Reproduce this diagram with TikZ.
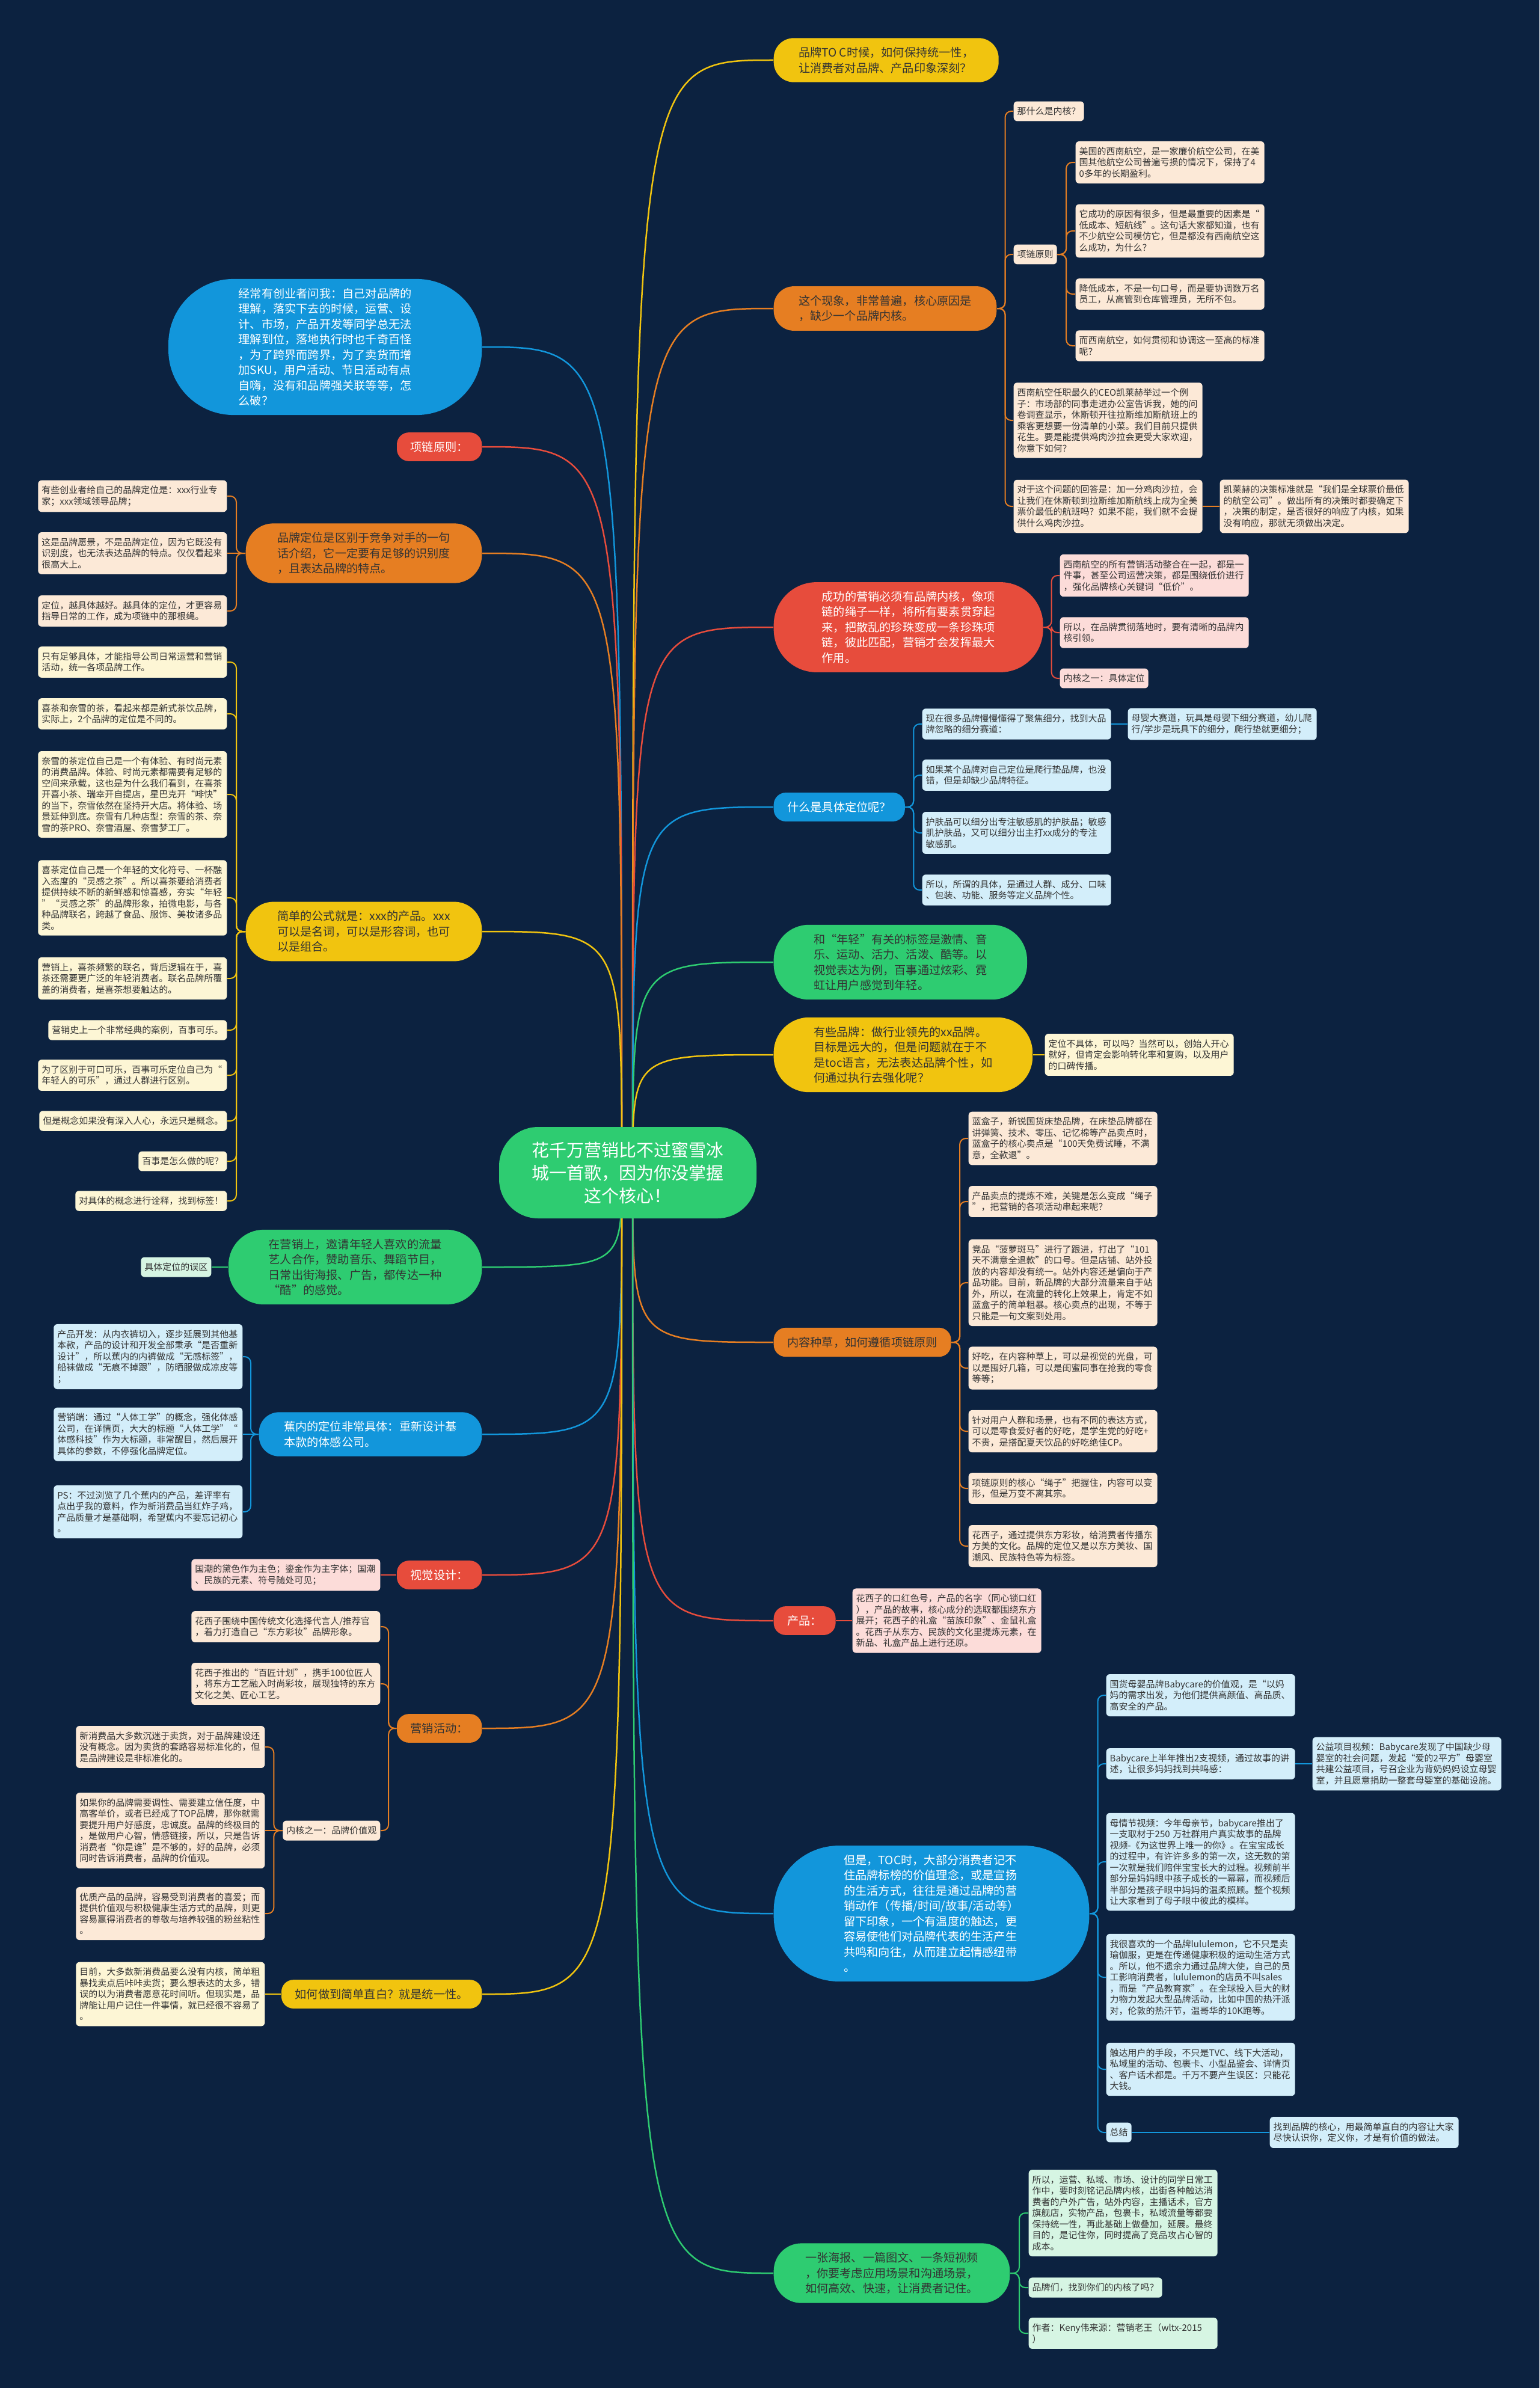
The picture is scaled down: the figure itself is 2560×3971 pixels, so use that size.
\documentclass[tikz,border=0pt]{standalone}
\usepackage{fontspec}
\setmainfont{Noto Sans CJK SC}
\usetikzlibrary{calc}
\pgfdeclarelayer{back}\pgfdeclarelayer{bg}
\pgfsetlayers{back,bg,main}
\definecolor{bgc}{HTML}{0C2240}
\definecolor{cY}{HTML}{F1C40F}
\definecolor{cO}{HTML}{E67E22}
\definecolor{cR}{HTML}{E74C3C}
\definecolor{cB}{HTML}{1296DB}
\definecolor{cG}{HTML}{2ECC71}
\definecolor{fY}{HTML}{FDF6D5}
\definecolor{fO}{HTML}{FCE9D7}
\definecolor{fR}{HTML}{FCDCD9}
\definecolor{fB}{HTML}{D3EEFA}
\definecolor{fG}{HTML}{D6F5E3}
\definecolor{txt}{HTML}{333333}
\tikzset{
  br/.style 2 args={rectangle, rounded corners=#1, align=left, inner xsep=#2, inner ysep=4.5pt, font=\fontsize{5.76pt}{7.65pt}\selectfont},
  bone/.style={br={6pt}{6.8pt}},
  btwo/.style={br={10pt}{12.4pt}},
  bthree/.style={br={13.8pt}{15.7pt}},
  bfour/.style={br={17.6pt}{20pt}},
  bfive/.style={br={21.4pt}{24pt}},
  beight/.style={br={32.5pt}{35pt}},
  sb/.style={rectangle, rounded corners=1.8pt, align=left, text width=90.6pt, inner xsep=1.8pt, inner ysep=2.85pt, font=\fontsize{4.5pt}{5.55pt}\selectfont, text=txt},
  sbo/.style={rectangle, rounded corners=1.8pt, align=left, inner xsep=1.8pt, inner ysep=2.85pt, font=\fontsize{4.5pt}{5.55pt}\selectfont, text=txt},
  ctrnode/.style={rectangle, rounded corners=19.5pt, align=center, minimum width=128.4pt, minimum height=45.6pt, font=\fontsize{8.7pt}{11.4pt}\selectfont, fill=cG, text=white},
  mline/.style={line width=0.75pt},
  sline/.style={line width=0.6pt, rounded corners=3pt},
}
\newcommand\mconR[2]{\draw[mline,#1] let \p1=(ctrR), \p2=(#2.west) in (\p1) .. controls (\x1,\y2) .. (\p2);}
\newcommand\mconL[2]{\draw[mline,#1] let \p1=(ctrL), \p2=(#2.east) in (\p1) .. controls (\x1,\y2) .. (\p2);}
\newcommand\sconR[3]{\draw[sline,#1] let \p1=(#2.east), \p2=(#3.west) in (\p1) -- ({(\x1+\x2)/2},\y1) |- (\p2);}
\newcommand\sconL[3]{\draw[sline,#1] let \p1=(#2.west), \p2=(#3.east) in (\p1) -- ({(\x1+\x2)/2},\y1) |- (\p2);}
\newcommand\hconR[3]{\draw[sline,#1] (#2.east) -- (#2.east -| #3.west);}
\newcommand\hconL[3]{\draw[sline,#1] (#2.west) -- (#2.west -| #3.east);}
\begin{document}
\begin{tikzpicture}[x=0.3pt,y=-0.3pt]
\begin{pgfonlayer}{back}
\fill[bgc] (0,0) rectangle (2560,3971);
\end{pgfonlayer}
\useasboundingbox (0,0) rectangle (2560,3971);

% center
\node[ctrnode] (C) at (1044,1950) {花千万营销比不过蜜雪冰\\城一首歌，因为你没掌握\\这个核心！};
\coordinate (ctrR) at (1052,1950);
\coordinate (ctrL) at (1034,1950);

% right branches
\node[btwo,fill=cY,text=txt,anchor=west] (R1) at (1286,100) {品牌TO C时候，如何保持统一性，\\让消费者对品牌、产品印象深刻？};
\node[btwo,fill=cO,text=txt,anchor=west] (R2) at (1286,513) {这个现象，非常普遍，核心原因是\\，缺少一个品牌内核。};
\node[bfive,fill=cR,text=white,anchor=west] (R3) at (1286,1043) {成功的营销必须有品牌内核，像项\\链的绳子一样，将所有要素贯穿起\\来，把散乱的珍珠变成一条珍珠项\\链，彼此匹配，营销才会发挥最大\\作用。};
\node[bone,fill=cB,text=white,anchor=west] (R4) at (1286,1342) {什么是具体定位呢？};
\node[bfour,fill=cG,text=txt,anchor=west] (R5) at (1286,1600) {和“年轻”有关的标签是激情、音\\乐、运动、活力、活泼、酷等。以\\视觉表达为例，百事通过炫彩、霓\\虹让用户感觉到年轻。};
\node[bfour,fill=cY,text=txt,anchor=west] (R6) at (1286,1754) {有些品牌：做行业领先的xx品牌。\\目标是远大的，但是问题就在于不\\是toc语言，无法表达品牌个性，如\\何通过执行去强化呢？};
\node[bone,fill=cO,text=txt,anchor=west] (R7) at (1286,2232) {内容种草，如何遵循项链原则};
\node[bone,fill=cR,text=white,anchor=west] (R8) at (1286,2695) {产品：};
\node[beight,fill=cB,text=white,anchor=west] (R9) at (1286,3182) {但是，TOC时，大部分消费者记不\\住品牌标榜的价值理念，或是宣扬\\的生活方式，往往是通过品牌的营\\销动作（传播/时间/故事/活动等）\\留下印象，一个有温度的触达，更\\容易使他们对品牌代表的生活产生\\共鸣和向往，从而建立起情感纽带\\。};
\node[bthree,fill=cG,text=txt,anchor=west] (R10) at (1286,3780) {一张海报、一篇图文、一条短视频\\，你要考虑应用场景和沟通场景，\\如何高效、快速，让消费者记住。};

% left branches
\node[beight,fill=cB,text=white,anchor=east] (L1) at (802,577) {经常有创业者问我：自己对品牌的\\理解，落实下去的时候，运营、设\\计、市场，产品开发等同学总无法\\理解到位，落地执行时也千奇百怪\\，为了跨界而跨界，为了卖货而增\\加SKU，用户活动、节日活动有点\\自嗨，没有和品牌强关联等等，怎\\么破？};
\node[bone,fill=cR,text=white,anchor=east] (L2) at (802,743) {项链原则：};
\node[bthree,fill=cO,text=txt,anchor=east] (L3) at (802,920) {品牌定位是区别于竞争对手的一句\\话介绍，它一定要有足够的识别度\\，且表达品牌的特点。};
\node[bthree,fill=cY,text=txt,anchor=east] (L4) at (802,1549) {简单的公式就是：xxx的产品。xxx\\可以是名词，可以是形容词，也可\\以是组合。};
\node[bfour,fill=cG,text=txt,anchor=east] (L5) at (802,2107) {在营销上，邀请年轻人喜欢的流量\\艺人合作，赞助音乐、舞蹈节目，\\日常出街海报、广告，都传达一种\\“酷”的感觉。};
\node[btwo,fill=cB,text=white,anchor=east] (L6) at (802,2385) {蕉内的定位非常具体：重新设计基\\本款的体感公司。};
\node[bone,fill=cR,text=white,anchor=east] (L7) at (802,2619) {视觉设计：};
\node[bone,fill=cO,text=txt,anchor=east] (L8) at (802,2874) {营销活动：};
\node[bone,fill=cY,text=txt,anchor=east] (L9) at (802,3316) {如何做到简单直白？就是统一性。};

% R2 subs
\node[sbo,fill=fO,anchor=west] (r2a) at (1685,185) {那什么是内核？};
\node[sbo,fill=fO,anchor=west] (r2b) at (1685,423) {项链原则};
\node[sb,fill=fO,anchor=west] (r2b1) at (1788,270) {美国的西南航空，是一家廉价航空公司，在美\\国其他航空公司普遍亏损的情况下，保持了4\\0多年的长期盈利。};
\node[sb,fill=fO,anchor=west] (r2b2) at (1788,384) {它成功的原因有很多，但是最重要的因素是“\\低成本、短航线”。这句话大家都知道，也有\\不少航空公司模仿它，但是都没有西南航空这\\么成功，为什么？};
\node[sb,fill=fO,anchor=west] (r2b3) at (1788,489) {降低成本，不是一句口号，而是要协调数万名\\员工，从高管到仓库管理员，无所不包。};
\node[sb,fill=fO,anchor=west] (r2b4) at (1788,575) {而西南航空，如何贯彻和协调这一至高的标准\\呢？};
\node[sb,fill=fO,anchor=west] (r2c) at (1685,699) {西南航空任职最久的CEO凯莱赫举过一个例\\子：市场部的同事走进办公室告诉我，她的问\\卷调查显示，休斯顿开往拉斯维加斯航班上的\\乘客更想要一份清单的小菜。我们目前只提供\\花生。要是能提供鸡肉沙拉会更受大家欢迎，\\你意下如何？};
\node[sb,fill=fO,anchor=west] (r2d) at (1685,842) {对于这个问题的回答是：加一分鸡肉沙拉，会\\让我们在休斯顿到拉斯维加斯航线上成为全美\\票价最低的航班吗？如果不能，我们就不会提\\供什么鸡肉沙拉。};
\node[sb,fill=fO,anchor=west] (r2d1) at (2028,842) {凯莱赫的决策标准就是“我们是全球票价最低\\的航空公司”。做出所有的决策时都要确定下\\，决策的制定，是否很好的响应了内核，如果\\没有响应，那就无须做出决定。};

% R3 subs
\node[sb,fill=fR,anchor=west] (r3a) at (1762,957) {西南航空的所有营销活动整合在一起，都是一\\件事，甚至公司运营决策，都是围绕低价进行\\，强化品牌核心关键词“低价”。};
\node[sb,fill=fR,anchor=west] (r3b) at (1762,1052) {所以，在品牌贯彻落地时，要有清晰的品牌内\\核引领。};
\node[sbo,fill=fR,anchor=west] (r3c) at (1762,1128) {内核之一：具体定位};

% R4 subs
\node[sb,fill=fB,anchor=west] (r4a) at (1533,1204) {现在很多品牌慢慢懂得了聚焦细分，找到大品\\牌忽略的细分赛道：};
\node[sb,fill=fB,anchor=west] (r4a1) at (1875,1204) {母婴大赛道，玩具是母婴下细分赛道，幼儿爬\\行/学步是玩具下的细分，爬行垫就更细分；};
\node[sb,fill=fB,anchor=west] (r4b) at (1533,1289) {如果某个品牌对自己定位是爬行垫品牌，也没\\错，但是却缺少品牌特征。};
\node[sb,fill=fB,anchor=west] (r4c) at (1533,1385) {护肤品可以细分出专注敏感肌的护肤品；敏感\\肌护肤品，又可以细分出主打xx成分的专注\\敏感肌。};
\node[sb,fill=fB,anchor=west] (r4d) at (1533,1480) {所以，所谓的具体，是通过人群、成分、口味\\、包装、功能、服务等定义品牌个性。};

% R6 sub
\node[sb,fill=fY,anchor=west] (r6a) at (1737,1754) {定位不具体，可以吗？当然可以，创始人开心\\就好，但肯定会影响转化率和复购，以及用户\\的口碑传播。};

% R7 subs
\node[sb,fill=fO,anchor=west] (r7a) at (1610,1893) {蓝盒子，新锐国货床垫品牌，在床垫品牌都在\\讲弹簧、技术、零压、记忆棉等产品卖点时，\\蓝盒子的核心卖点是“100天免费试睡，不满\\意，全款退”。};
\node[sb,fill=fO,anchor=west] (r7b) at (1610,1998) {产品卖点的提炼不难，关键是怎么变成“绳子\\”，把营销的各项活动串起来呢？};
\node[sb,fill=fO,anchor=west] (r7c) at (1610,2133) {竞品“菠萝斑马”进行了跟进，打出了“101\\天不满意全退款”的口号。但是店铺、站外投\\放的内容却没有统一。站外内容还是偏向于产\\品功能。目前，新品牌的大部分流量来自于站\\外，所以，在流量的转化上效果上，肯定不如\\蓝盒子的简单粗暴。核心卖点的出现，不等于\\只能是一句文案到处用。};
\node[sb,fill=fO,anchor=west] (r7d) at (1610,2275) {好吃，在内容种草上，可以是视觉的光盘，可\\以是囤好几箱，可以是闺蜜同事在抢我的零食\\等等；};
\node[sb,fill=fO,anchor=west] (r7e) at (1610,2380) {针对用户人群和场景，也有不同的表达方式，\\可以是零食爱好者的好吃，是学生党的好吃+\\不贵，是搭配夏天饮品的好吃绝佳CP。};
\node[sb,fill=fO,anchor=west] (r7f) at (1610,2475) {项链原则的核心“绳子”把握住，内容可以变\\形，但是万变不离其宗。};
\node[sb,fill=fO,anchor=west] (r7g) at (1610,2571) {花西子，通过提供东方彩妆，给消费者传播东\\方美的文化。品牌的定位又是以东方美妆、国\\潮风、民族特色等为标签。};

% R8 sub
\node[sb,fill=fR,anchor=west] (r8a) at (1417,2695) {花西子的口红色号，产品的名字（同心锁口红\\），产品的故事，核心成分的选取都围绕东方\\展开；花西子的礼盒“苗族印象”、金鼠礼盒\\。花西子从东方、民族的文化里提炼元素，在\\新品、礼盒产品上进行还原。};

% R9 subs
\node[sb,fill=fB,anchor=west] (r9a) at (1839,2819) {国货母婴品牌Babycare的价值观，是“以妈\\妈的需求出发，为他们提供高颜值、高品质、\\高安全的产品。};
\node[sb,fill=fB,anchor=west] (r9b) at (1839,2933) {Babycare上半年推出2支视频，通过故事的讲\\述，让很多妈妈找到共鸣感：};
\node[sb,fill=fB,anchor=west] (r9b1) at (2182,2933) {公益项目视频：Babycare发现了中国缺少母\\婴室的社会问题，发起“爱的2平方”母婴室\\共建公益项目，号召企业为背奶妈妈设立母婴\\室，并且愿意捐助一整套母婴室的基础设施。};
\node[sb,fill=fB,anchor=west] (r9c) at (1839,3096) {母情节视频：今年母亲节，babycare推出了\\一支取材于250 万社群用户真实故事的品牌\\视频-《为这世界上唯一的你》。在宝宝成长\\的过程中，有许许多多的第一次，这无数的第\\一次就是我们陪伴宝宝长大的过程。视频前半\\部分是妈妈眼中孩子成长的一幕幕，而视频后\\半部分是孩子眼中妈妈的温柔照顾。整个视频\\让大家看到了母子眼中彼此的模样。};
\node[sb,fill=fB,anchor=west] (r9d) at (1839,3288) {我很喜欢的一个品牌lululemon，它不只是卖\\瑜伽服，更是在传递健康积极的运动生活方式\\。所以，他不遗余力通过品牌大使，自己的员\\工影响消费者，lululemon的店员不叫sales\\，而是“产品教育家”。在全球投入巨大的财\\力物力发起大型品牌活动，比如中国的热汗派\\对，伦敦的热汗节，温哥华的10K跑等。};
\node[sb,fill=fB,anchor=west] (r9e) at (1839,3441) {触达用户的手段，不只是TVC、线下大活动，\\私域里的活动、包裹卡、小型品鉴会、详情页\\、客户话术都是。千万不要产生误区：只能花\\大钱。};
\node[sbo,fill=fB,anchor=west] (r9f) at (1839,3546) {总结};
\node[sb,fill=fB,anchor=west] (r9f1) at (2111,3546) {找到品牌的核心，用最简单直白的内容让大家\\尽快认识你，定义你，才是有价值的做法。};

% R10 subs
\node[sb,fill=fG,anchor=west] (r10a) at (1710,3680) {所以，运营、私域、市场、设计的同学日常工\\作中，要时刻铭记品牌内核，出街各种触达消\\费者的户外广告，站外内容，主播话术，官方\\旗舰店，实物产品，包裹卡，私域流量等都要\\保持统一性，再此基础上做叠加，延展。最终\\目的，是记住你，同时提高了竞品攻占心智的\\成本。};
\node[sbo,fill=fG,anchor=west] (r10b) at (1710,3804) {品牌们，找到你们的内核了吗？};
\node[sb,fill=fG,anchor=west] (r10c) at (1710,3880) {作者：Keny伟来源：营销老王（wltx-2015\\）};

% L3 subs
\node[sb,fill=fO,anchor=east] (l3a) at (378,825) {有些创业者给自己的品牌定位是：xxx行业专\\家；xxx领域领导品牌；};
\node[sb,fill=fO,anchor=east] (l3b) at (378,920) {这是品牌愿景，不是品牌定位，因为它既没有\\识别度，也无法表达品牌的特点。仅仅看起来\\很高大上。};
\node[sb,fill=fO,anchor=east] (l3c) at (378,1016) {定位，越具体越好。越具体的定位，才更容易\\指导日常的工作，成为项链中的那根绳。};

% L4 subs
\node[sb,fill=fY,anchor=east] (l4a) at (378,1101) {只有足够具体，才能指导公司日常运营和营销\\活动，统一各项品牌工作。};
\node[sb,fill=fY,anchor=east] (l4b) at (378,1187) {喜茶和奈雪的茶，看起来都是新式茶饮品牌，\\实际上，2个品牌的定位是不同的。};
\node[sb,fill=fY,anchor=east] (l4c) at (378,1321) {奈雪的茶定位自己是一个有体验、有时尚元素\\的消费品牌。体验、时尚元素都需要有足够的\\空间来承载，这也是为什么我们看到，在喜茶\\开喜小茶、瑞幸开自提店，星巴克开“啡快”\\的当下，奈雪依然在坚持开大店。将体验、场\\景延伸到底。奈雪有几种店型：奈雪的茶、奈\\雪的茶PRO、奈雪酒屋、奈雪梦工厂。};
\node[sb,fill=fY,anchor=east] (l4d) at (378,1493) {喜茶定位自己是一个年轻的文化符号、一杯融\\入态度的“灵感之茶”。所以喜茶要给消费者\\提供持续不断的新鲜感和惊喜感，夯实“年轻\\”“灵感之茶”的品牌形象，拍微电影，与各\\种品牌联名，跨越了食品、服饰、美妆诸多品\\类。};
\node[sb,fill=fY,anchor=east] (l4e) at (378,1627) {营销上，喜茶频繁的联名，背后逻辑在于，喜\\茶还需要更广泛的年轻消费者。联名品牌所覆\\盖的消费者，是喜茶想要触达的。};
\node[sbo,fill=fY,anchor=east] (l4f) at (378,1713) {营销史上一个非常经典的案例，百事可乐。};
\node[sb,fill=fY,anchor=east] (l4g) at (378,1788) {为了区别于可口可乐，百事可乐定位自己为“\\年轻人的可乐”，通过人群进行区别。};
\node[sbo,fill=fY,anchor=east] (l4h) at (378,1864) {但是概念如果没有深入人心，永远只是概念。};
\node[sbo,fill=fY,anchor=east] (l4i) at (378,1931) {百事是怎么做的呢？};
\node[sbo,fill=fY,anchor=east] (l4j) at (378,1997) {对具体的概念进行诠释，找到标签！};

% L5 sub
\node[sbo,fill=fG,anchor=east] (l5a) at (352,2107) {具体定位的误区};

% L6 subs
\node[sb,fill=fB,anchor=east] (l6a) at (404,2256) {产品开发：从内衣裤切入，逐步延展到其他基\\本款，产品的设计和开发全部秉承“是否重新\\设计”，所以蕉内的内裤做成“无感标签”，\\船袜做成“无痕不掉跟”，防晒服做成凉皮等\\；};
\node[sb,fill=fB,anchor=east] (l6b) at (404,2385) {营销端：通过“人体工学”的概念，强化体感\\公司，在详情页，大大的标题“人体工学”“\\体感科技”作为大标题，非常醒目，然后展开\\具体的参数，不停强化品牌定位。};
\node[sb,fill=fB,anchor=east] (l6c) at (404,2514) {PS：不过浏览了几个蕉内的产品，差评率有\\点出乎我的意料，作为新消费品当红炸子鸡，\\产品质量才是基础啊，希望蕉内不要忘记初心\\。};

% L7 sub
\node[sb,fill=fR,anchor=east] (l7a) at (633,2619) {国潮的黛色作为主色；鎏金作为主字体；国潮\\、民族的元素、符号随处可见；};

% L8 subs
\node[sb,fill=fO,anchor=east] (l8a) at (633,2705) {花西子围绕中国传统文化选择代言人/推荐官\\，着力打造自己“东方彩妆”品牌形象。};
\node[sb,fill=fO,anchor=east] (l8b) at (633,2800) {花西子推出的“百匠计划”，携手100位匠人\\，将东方工艺融入时尚彩妆，展现独特的东方\\文化之美、匠心工艺。};
\node[sbo,fill=fO,anchor=east] (l8c) at (633,3044) {内核之一：品牌价值观};
\node[sb,fill=fO,anchor=east] (l8c1) at (441,2905) {新消费品大多数沉迷于卖货，对于品牌建设还\\没有概念。因为卖货的套路容易标准化的，但\\是品牌建设是非标准化的。};
\node[sb,fill=fO,anchor=east] (l8c2) at (441,3044) {如果你的品牌需要调性、需要建立信任度，中\\高客单价，或者已经成了TOP品牌，那你就需\\要提升用户好感度，忠诚度。品牌的终极目的\\，是做用户心智，情感链接，所以，只是告诉\\消费者“你是谁”是不够的，好的品牌，必须\\同时告诉消费者，品牌的价值观。};
\node[sb,fill=fO,anchor=east] (l8c3) at (441,3182) {优质产品的品牌，容易受到消费者的喜爱；而\\提供价值观与积极健康生活方式的品牌，则更\\容易赢得消费者的尊敬与培养较强的粉丝粘性\\。};

% L9 sub
\node[sb,fill=fY,anchor=east] (l9a) at (441,3316) {目前，大多数新消费品要么没有内核，简单粗\\暴找卖点后咔咔卖货；要么想表达的太多，错\\误的以为消费者愿意花时间听。但现实是，品\\牌能让用户记住一件事情，就已经很不容易了\\。};

\begin{pgfonlayer}{bg}
% main connectors
\mconR{cY}{R1}\mconR{cO}{R2}\mconR{cR}{R3}\mconR{cB}{R4}\mconR{cG}{R5}
\mconR{cY}{R6}\mconR{cO}{R7}\mconR{cR}{R8}\mconR{cB}{R9}\mconR{cG}{R10}
\mconL{cB}{L1}\mconL{cR}{L2}\mconL{cO}{L3}\mconL{cY}{L4}\mconL{cG}{L5}
\mconL{cB}{L6}\mconL{cR}{L7}\mconL{cO}{L8}\mconL{cY}{L9}
% right subs
\sconR{cO}{R2}{r2a}\sconR{cO}{R2}{r2b}\sconR{cO}{R2}{r2c}\sconR{cO}{R2}{r2d}
\sconR{cO}{r2b}{r2b1}\sconR{cO}{r2b}{r2b2}\sconR{cO}{r2b}{r2b3}\sconR{cO}{r2b}{r2b4}
\hconR{cO}{r2d}{r2d1}
\sconR{cR}{R3}{r3a}\sconR{cR}{R3}{r3b}\sconR{cR}{R3}{r3c}
\sconR{cB}{R4}{r4a}\sconR{cB}{R4}{r4b}\sconR{cB}{R4}{r4c}\sconR{cB}{R4}{r4d}
\hconR{cB}{r4a}{r4a1}
\hconR{cY}{R6}{r6a}
\sconR{cO}{R7}{r7a}\sconR{cO}{R7}{r7b}\sconR{cO}{R7}{r7c}\sconR{cO}{R7}{r7d}
\sconR{cO}{R7}{r7e}\sconR{cO}{R7}{r7f}\sconR{cO}{R7}{r7g}
\hconR{cR}{R8}{r8a}
\sconR{cB}{R9}{r9a}\sconR{cB}{R9}{r9b}\sconR{cB}{R9}{r9c}\sconR{cB}{R9}{r9d}
\sconR{cB}{R9}{r9e}\sconR{cB}{R9}{r9f}
\hconR{cB}{r9b}{r9b1}\hconR{cB}{r9f}{r9f1}
\sconR{cG}{R10}{r10a}\sconR{cG}{R10}{r10b}\sconR{cG}{R10}{r10c}
% left subs
\sconL{cO}{L3}{l3a}\hconL{cO}{L3}{l3b}\sconL{cO}{L3}{l3c}
\sconL{cY}{L4}{l4a}\sconL{cY}{L4}{l4b}\sconL{cY}{L4}{l4c}\sconL{cY}{L4}{l4d}
\sconL{cY}{L4}{l4e}\sconL{cY}{L4}{l4f}\sconL{cY}{L4}{l4g}\sconL{cY}{L4}{l4h}
\sconL{cY}{L4}{l4i}\sconL{cY}{L4}{l4j}
\hconL{cG}{L5}{l5a}
\sconL{cB}{L6}{l6a}\hconL{cB}{L6}{l6b}\sconL{cB}{L6}{l6c}
\hconL{cR}{L7}{l7a}
\sconL{cO}{L8}{l8a}\sconL{cO}{L8}{l8b}\sconL{cO}{L8}{l8c}
\sconL{cO}{l8c}{l8c1}\hconL{cO}{l8c}{l8c2}\sconL{cO}{l8c}{l8c3}
\hconL{cY}{L9}{l9a}
\end{pgfonlayer}
\end{tikzpicture}
\end{document}
